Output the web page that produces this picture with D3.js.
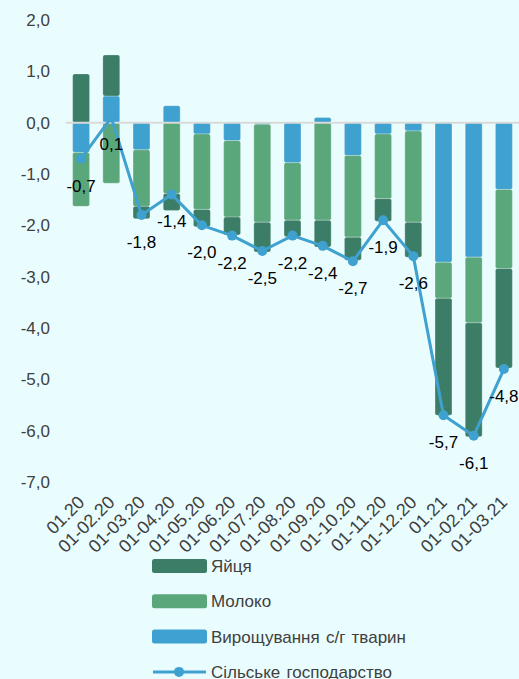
<!DOCTYPE html>
<html>
<head>
<meta charset="utf-8">
<script src="https://cdn.jsdelivr.net/npm/d3@7"></script>
<style>
  html, body { margin: 0; padding: 0; background: #eafdfe; }
  svg { display: block; font-family: "Liberation Sans", Arial, sans-serif; }
</style>
</head>
<body>
<div id="chart"></div>
<script>
// months
var categories = ["01.20", "01-02.20", "01-03.20", "01-04.20", "01-05.20", "01-06.20",
  "01-07.20", "01-08.20", "01-09.20", "01-10.20", "01-11.20", "01-12.20",
  "01.21", "01-02.21", "01-03.21"];

// contributions, p.p.
var livestock = [-0.58, 0.52, -0.53, 0.33, -0.22, -0.35, -0.03, -0.78, 0.10, -0.64, -0.22, -0.16, -2.72, -2.62, -1.30];
var milk      = [-1.05, -1.18, -1.10, -1.38, -1.47, -1.49, -1.91, -1.12, -1.90, -1.59, -1.26, -1.78, -0.70, -1.28, -1.54];
var eggs      = [0.95, 0.80, -0.24, -0.33, -0.34, -0.35, -0.58, -0.32, -0.52, -0.45, -0.44, -0.68, -2.28, -2.22, -1.94];
var agri      = [-0.7, 0.1, -1.8, -1.4, -2.0, -2.2, -2.5, -2.2, -2.4, -2.7, -1.9, -2.6, -5.7, -6.1, -4.8];

var yTicks = [2, 1, 0, -1, -2, -3, -4, -5, -6, -7];

var cfg = {
  w: 519,
  h: 679,
  left: 66,
  right: 519,
  top: 20,
  bottom: 482,
  bg: "#eafdfe",
  colEggs: "#3b7d66",
  colMilk: "#5ba77c",
  colLive: "#3fa1cf",
  textCol: "#404040"
};

var locale = d3.formatLocale({decimal: ",", thousands: " ", grouping: [3], currency: ["", ""], minus: "-"});
var fmt = locale.format(".1f");

var rows = categories.map(function(c, i) {
  return {cat: c, live: livestock[i], milk: milk[i], eggs: eggs[i]};
});

var keys = ["live", "milk", "eggs"];
var colors = {live: cfg.colLive, milk: cfg.colMilk, eggs: cfg.colEggs};

var series = d3.stack().keys(keys).offset(d3.stackOffsetDiverging)(rows);

var x = d3.scaleBand().domain(categories).range([cfg.left, cfg.right]).paddingInner(0.44).paddingOuter(0.22);
var y = d3.scaleLinear().domain([-7, 2]).range([cfg.bottom, cfg.top]);

var svg = d3.select("#chart").append("svg")
  .attr("width", cfg.w)
  .attr("height", cfg.h);

svg.append("rect").attr("width", cfg.w).attr("height", cfg.h).attr("fill", cfg.bg);

// y labels
svg.append("g").selectAll("text")
  .data(yTicks)
  .enter()
  .append("text")
  .attr("x", 50)
  .attr("y", function(d) { return y(d); })
  .attr("dy", "0.35em")
  .attr("text-anchor", "end")
  .style("font-size", "17px")
  .attr("fill", cfg.textCol)
  .text(function(d) { return fmt(d); });

// stacked bars
var groups = svg.append("g").selectAll("g")
  .data(series)
  .enter()
  .append("g")
  .attr("fill", function(d) { return colors[d.key]; });

groups.selectAll("rect")
  .data(function(d) { return d; })
  .enter()
  .append("rect")
  .attr("x", function(d) { return x(d.data.cat); })
  .attr("width", x.bandwidth())
  .attr("y", function(d) { return y(Math.max(d[0], d[1])); })
  .attr("height", function(d) { return Math.abs(y(d[0]) - y(d[1])); })
  .attr("rx", 2)
  .attr("stroke", "#ffffff")
  .attr("stroke-opacity", 0.25)
  .attr("stroke-width", 1);

// zero line
svg.append("line")
  .attr("x1", cfg.left)
  .attr("x2", cfg.right)
  .attr("y1", y(0))
  .attr("y2", y(0))
  .attr("stroke", "#d9d9d9")
  .attr("stroke-width", 2);

// total line
var cx = function(i) { return x(categories[i]) + x.bandwidth() / 2; };
var line = d3.line()
  .x(function(d, i) { return cx(i); })
  .y(function(d) { return y(d); });

svg.append("path")
  .datum(agri)
  .attr("d", line)
  .attr("fill", "none")
  .attr("stroke", cfg.colLive)
  .attr("stroke-width", 3)
  .attr("stroke-linejoin", "round");

svg.append("g").selectAll("circle")
  .data(agri)
  .enter()
  .append("circle")
  .attr("cx", function(d, i) { return cx(i); })
  .attr("cy", function(d) { return y(d); })
  .attr("r", 5)
  .attr("fill", cfg.colLive);

svg.append("g").selectAll("text")
  .data(agri)
  .enter()
  .append("text")
  .attr("x", function(d, i) { return cx(i); })
  .attr("y", function(d) { return y(d) + 27; })
  .attr("dy", "0.35em")
  .attr("text-anchor", "middle")
  .style("font-size", "17px")
  .attr("fill", "#000")
  .text(function(d) { return fmt(d); });

// x labels
svg.append("g").selectAll("text")
  .data(categories)
  .enter()
  .append("text")
  .attr("transform", function(d) { return "translate(" + (x(d) + x.bandwidth() / 2) + "," + 499 + ") rotate(-45)"; })
  .attr("text-anchor", "end")
  .attr("dy", "0.35em")
  .style("font-size", "18px")
  .attr("fill", cfg.textCol)
  .text(function(d) { return d; });

// legend
var legendItems = [
  {name: "Яйця", color: cfg.colEggs, type: "rect"},
  {name: "Молоко", color: cfg.colMilk, type: "rect"},
  {name: "Вирощування с/г тварин", color: cfg.colLive, type: "rect"},
  {name: "Сільське господарство", color: cfg.colLive, type: "line"}
];

var legend = svg.append("g").selectAll("g")
  .data(legendItems)
  .enter()
  .append("g")
  .attr("transform", function(d, i) { return "translate(152," + (566 + i * 35.3) + ")"; });

legend.filter(function(d) { return d.type == "rect"; })
  .append("rect")
  .attr("x", 0)
  .attr("y", -7)
  .attr("width", 55)
  .attr("height", 14)
  .attr("rx", 2.5)
  .attr("fill", function(d) { return d.color; });

var ll = legend.filter(function(d) { return d.type == "line"; });
ll.append("line")
  .attr("x1", 1).attr("x2", 54)
  .attr("y1", 0).attr("y2", 0)
  .attr("stroke", function(d) { return d.color; })
  .attr("stroke-width", 3);
ll.append("circle")
  .attr("cx", 27).attr("cy", 0).attr("r", 5)
  .attr("fill", function(d) { return d.color; });

legend.append("text")
  .attr("x", 59)
  .attr("y", 0)
  .attr("dy", "0.35em")
  .style("font-size", "17px")
  .style("word-spacing", "1.5px")
  .attr("fill", cfg.textCol)
  .text(function(d) { return d.name; });
</script>
</body>
</html>
